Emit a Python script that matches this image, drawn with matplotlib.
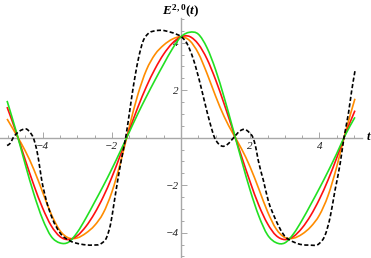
import numpy as np
import matplotlib
matplotlib.use("Agg")
import matplotlib.pyplot as plt
from matplotlib.ticker import MultipleLocator, FixedLocator
from matplotlib.path import Path
from matplotlib.patches import PathPatch

# ---- data ----
t = [-5.027, -4.75, -4.5, -4.25, -4.0, -3.75, -3.5, -3.25, -3.0, -2.75, -2.5, -2.25, -2.0,
     -1.75, -1.5, -1.25, -1.0, -0.75, -0.5, -0.25, 0.0, 0.25, 0.5, 0.75, 1.0, 1.25, 1.5,
     1.75, 2.0, 2.25, 2.5, 2.75, 3.0, 3.25, 3.5, 3.75, 4.0, 4.25, 4.5, 4.75, 5.027]

green = [1.55, 0.20, -1.13, -2.38, -3.43, -4.16, -4.43, -4.40, -3.99, -3.39, -2.72, -2.04, -1.32,
         -0.56, 0.22, 1.00, 1.73, 2.43, 3.10, 3.74, 4.25, 4.44, 4.36, 3.79, 2.86, 1.68, 0.38,
         -0.95, -2.22, -3.30, -4.09, -4.42, -4.43, -4.05, -3.47, -2.81, -2.13, -1.42, -0.67, 0.12, 0.86]

red = [1.29, 0.17, -0.94, -2.01, -2.96, -3.71, -4.16, -4.29, -4.13, -3.74, -3.19, -2.50, -1.67,
       -0.72, 0.29, 1.27, 2.15, 2.90, 3.52, 3.98, 4.25, 4.26, 3.94, 3.32, 2.44, 1.41, 0.31,
       -0.79, -1.87, -2.85, -3.62, -4.12, -4.29, -4.16, -3.80, -3.27, -2.59, -1.78, -0.85, 0.15, 1.14]

orange = [0.79, 0.10, -0.56, -1.35, -2.29, -3.22, -3.91, -4.22, -4.22, -4.02, -3.70, -3.18, -2.30,
          -1.05, 0.42, 1.80, 2.85, 3.51, 3.90, 4.15, 4.25, 4.09, 3.56, 2.71, 1.75, 0.88, 0.18,
          -0.47, -1.24, -2.16, -3.11, -3.84, -4.20, -4.23, -4.06, -3.75, -3.26, -2.44, -1.23, 0.22, 1.64]

t_dash = [-5.027, -4.94, -4.85, -4.72, -4.6, -4.46, -4.36, -4.27, -4.18, -4.12, -4.03, -3.9,
          -3.72, -3.5, -3.2, -2.9, -2.55, -2.3, -2.15, -2.03, -1.94, -1.83, -1.72, -1.6, -1.5,
          -1.41, -1.32, -1.22, -1.1, -0.95, -0.75, -0.55, -0.32, -0.12, 0.0, 0.16, 0.36, 0.55,
          0.69, 0.84, 0.97, 1.08, 1.2, 1.32, 1.45, 1.55, 1.7, 1.85, 1.97, 2.08, 2.16, 2.23,
          2.38, 2.52, 2.72, 2.95, 3.3, 3.7, 4.0, 4.16, 4.31, 4.45, 4.6, 4.71, 4.84, 4.93, 5.027]
dashed = [-0.33, -0.24, 0.0, 0.22, 0.33, 0.36, 0.22, 0.0, -0.45, -0.9, -1.75, -2.6,
          -3.4, -4.0, -4.35, -4.48, -4.52, -4.45, -4.2, -3.6, -2.8, -1.8, -0.9, 0.0, 0.95,
          1.85, 2.65, 3.4, 4.05, 4.38, 4.5, 4.52, 4.45, 4.35, 4.26, 4.0, 3.29, 2.3,
          1.46, 0.61, 0.0, -0.25, -0.36, -0.31, -0.12, 0.05, 0.28, 0.35, 0.22, 0.0, -0.4, -0.94,
          -1.79, -2.64, -3.4, -4.05, -4.42, -4.52, -4.45, -4.12, -3.35, -2.22, -1.09, 0.0, 1.03, 1.95, 2.8]

xticks_major = [-4, -2, 2, 4]
yticks_major = [-4, -2, 2, 4]
tick_labels = ["\u22124", "\u22122", "2", "4"]


def smooth_path(x, y):
    """Smooth cubic Bezier path passing through the given data points."""
    x = np.asarray(x, float)
    y = np.asarray(y, float)
    n = len(x)
    h = np.diff(x)
    d = np.diff(y) / h
    m = np.empty(n)
    m[0], m[-1] = d[0], d[-1]
    for i in range(1, n - 1):
        m[i] = (d[i - 1] * h[i] + d[i] * h[i - 1]) / (h[i - 1] + h[i])
    verts = [(x[0], y[0])]
    codes = [Path.MOVETO]
    for i in range(n - 1):
        verts += [(x[i] + h[i] / 3, y[i] + m[i] * h[i] / 3),
                  (x[i + 1] - h[i] / 3, y[i + 1] - m[i + 1] * h[i] / 3),
                  (x[i + 1], y[i + 1])]
        codes += [Path.CURVE4] * 3
    return Path(verts, codes)


# ---- figure ----
W, H = 371, 258
fig = plt.figure(figsize=(W / 100, H / 100), dpi=100)
fig.patch.set_facecolor("white")

x0, xs = 181.0, 34.6
y0, ys = 137.7, 23.75
xlim = (-5.23, 5.23)
ylim = (-5.02, 5.02)
left_px = x0 + xs * xlim[0]
right_px = x0 + xs * xlim[1]
top_px = y0 - ys * ylim[1]
bot_px = y0 - ys * ylim[0]
ax = fig.add_axes([left_px / W, (H - bot_px) / H, (right_px - left_px) / W, (bot_px - top_px) / H])
ax.set_xlim(*xlim)
ax.set_ylim(*ylim)
ax.set_facecolor("white")

for s in ["top", "right"]:
    ax.spines[s].set_visible(False)
for s in ["left", "bottom"]:
    ax.spines[s].set_position("zero")
    ax.spines[s].set_color("#a8a8a8")
    ax.spines[s].set_linewidth(1.0)

ax.xaxis.set_major_locator(FixedLocator(xticks_major))
ax.yaxis.set_major_locator(FixedLocator(yticks_major))
ax.xaxis.set_minor_locator(MultipleLocator(0.5))
ax.yaxis.set_minor_locator(MultipleLocator(0.5))
ax.tick_params(which="both", direction="in", color="#999999", width=0.6)
ax.tick_params(which="major", length=4)
ax.tick_params(which="minor", length=2.2)
ax.tick_params(axis="x", which="major", pad=3.0)
ax.tick_params(axis="y", which="major", pad=1.5)

ax.set_xticklabels(tick_labels)
ax.set_yticklabels(tick_labels)
for lab in ax.get_xticklabels() + ax.get_yticklabels():
    lab.set_fontfamily("Liberation Serif")
    lab.set_fontstyle("italic")
    lab.set_fontsize(8)
    lab.set_color("#222222")

series = [(t, orange, "#ff8c00", "solid", 3),
          (t, red, "#ff1010", "solid", 4),
          (t, green, "#22e022", "solid", 5),
          (t_dash, dashed, "black", (0, (2.5, 1.4)), 6)]
for xx, yy, col, ls, z in series:
    patch = PathPatch(smooth_path(xx, yy), fill=False, edgecolor=col, lw=1.2,
                      linestyle=ls, capstyle="butt", zorder=z)
    ax.add_patch(patch)

fig.text(368 / W, 1 - 137 / H, "t", fontfamily="Liberation Serif", fontstyle="italic",
         fontweight="bold", fontsize=9, ha="center", va="center")
plt.rcParams["mathtext.fontset"] = "custom"
plt.rcParams["mathtext.it"] = "Liberation Serif:italic:bold"
plt.rcParams["mathtext.rm"] = "Liberation Serif:bold"
plt.rcParams["mathtext.bf"] = "Liberation Serif:bold:italic"
fig.text(181 / W, 1 - 11 / H, r"$E^{2,0}(t)$", fontsize=9.5, ha="center", va="center")

fig.savefig("out.png", dpi=100, facecolor="white")
